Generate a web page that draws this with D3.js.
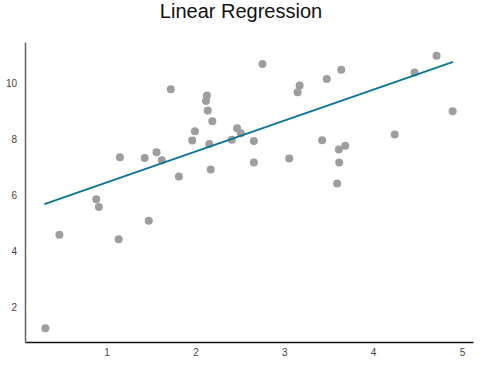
<!DOCTYPE html>
<html>
<head>
<meta charset="utf-8">
<script src="https://cdn.jsdelivr.net/npm/d3@7"></script>
<style>
  html, body { margin: 0; padding: 0; background: #fff; }
  svg { display: block; }
</style>
</head>
<body>
<svg id="chart" width="500" height="369"></svg>
<script>
// ---- data ----
const xValues = [0.311, 0.469, 0.884, 0.913, 1.136, 1.150, 1.429, 1.475, 1.562, 1.621,
                 1.723, 1.814, 1.964, 1.994, 2.119, 2.130, 2.138, 2.156, 2.172, 2.190,
                 2.409, 2.469, 2.511, 2.658, 2.658, 2.755, 3.056, 3.150, 3.173, 3.426,
                 3.478, 3.595, 3.614, 3.618, 3.641, 3.686, 4.243, 4.466, 4.714, 4.895];
const yValues = [1.26, 4.60, 5.87, 5.59, 4.44, 7.37, 7.34, 5.10, 7.55, 7.26,
                 9.80, 6.68, 7.97, 8.30, 9.38, 9.58, 9.04, 7.84, 6.93, 8.66,
                 8.00, 8.41, 8.23, 7.95, 7.18, 10.70, 7.33, 9.69, 9.93, 7.98,
                 10.17, 6.43, 7.65, 7.18, 10.50, 7.78, 8.18, 10.40, 11.00, 9.01];
const fitX = [0.30, 4.90];
const fitY = [5.70, 10.78];
const xTicks = [1, 2, 3, 4, 5];
const yTicks = [2, 4, 6, 8, 10];
const titleText = "Linear Regression";

const points = xValues.map((x, i) => ({ x, y: yValues[i] }));
const fitLine = fitX.map((x, i) => ({ x, y: fitY[i] }));

const W = 500, H = 369;
const margin = { top: 42, right: 27, bottom: 27, left: 25 };
const svg = d3.select("#chart");

const pad = (ext) => { const r = ext[1] - ext[0]; return [ext[0] - 0.05 * r, ext[1] + 0.05 * r]; };
const x = d3.scaleLinear().domain(pad(d3.extent(xValues))).range([margin.left, W - margin.right]);
const y = d3.scaleLinear().domain(pad(d3.extent(yValues))).range([H - margin.bottom, margin.top]);

// title
svg.append("text")
  .attr("x", 241).attr("y", 18)
  .attr("text-anchor", "middle")
  .style("font-family", "'Liberation Sans', Arial, sans-serif")
  .style("font-size", "20px")
  .style("fill", "#111")
  .text(titleText);

// axes
const xAxis = d3.axisBottom(x).tickValues(xTicks).tickSize(0).tickPadding(7).tickFormat(d3.format("d"));
const yAxis = d3.axisLeft(y).tickValues(yTicks).tickSize(0).tickPadding(8).tickFormat(d3.format("d"));

const gx = svg.append("g").attr("transform", `translate(0,${H - margin.bottom})`).call(xAxis);
gx.select(".domain").attr("stroke", "#111").attr("stroke-width", 1.5);
gx.selectAll("text").style("font-family", "'Liberation Sans', Arial, sans-serif").style("font-size", "10px").style("fill", "#444");

const gy = svg.append("g").attr("transform", `translate(${margin.left},0)`).call(yAxis);
gy.select(".domain").attr("stroke", "#666").attr("stroke-width", 1.5);
gy.selectAll("text").style("font-family", "'Liberation Sans', Arial, sans-serif").style("font-size", "10px").style("fill", "#444");

// points
svg.append("g").selectAll("circle").data(points).join("circle")
  .attr("cx", d => x(d.x)).attr("cy", d => y(d.y)).attr("r", 4)
  .attr("fill", "#9e9e9e");

// regression line
svg.append("path").datum(fitLine)
  .attr("d", d3.line().x(d => x(d.x)).y(d => y(d.y)))
  .attr("fill", "none").attr("stroke", "#0a7597").attr("stroke-width", 1.8);
</script>
</body>
</html>
